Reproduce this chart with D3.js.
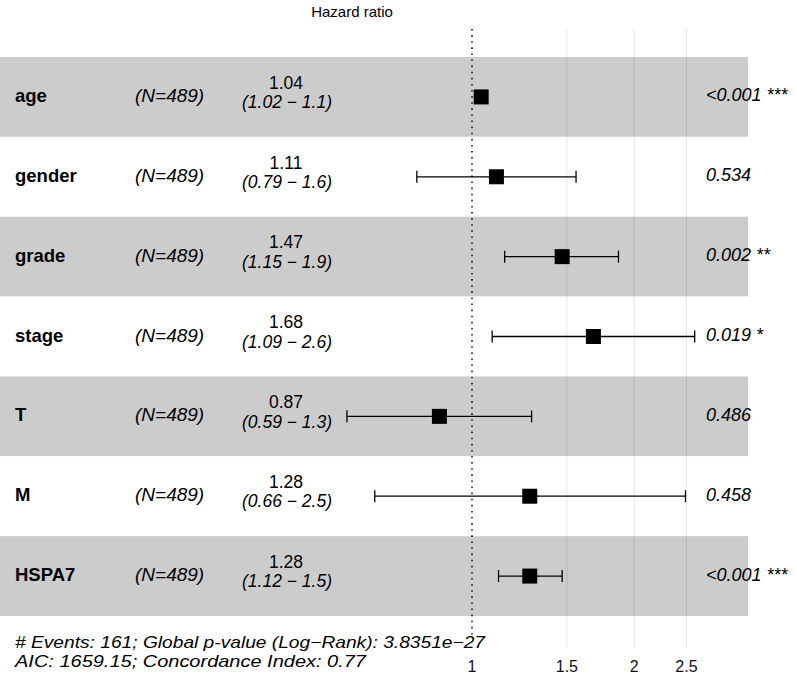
<!DOCTYPE html>
<html>
<head>
<meta charset="utf-8">
<script src="https://cdn.jsdelivr.net/npm/d3@7"></script>
<style>
  html, body { margin: 0; padding: 0; background: #fff; }
  svg { display: block; font-family: "Liberation Sans", Arial, Helvetica, sans-serif; }
</style>
</head>
<body>
<svg id="chart" width="797" height="681"></svg>
<script>
// ---- data ----
const variables = ["age", "gender", "grade", "stage", "T", "M", "HSPA7"];
const nLabels = ["(N=489)", "(N=489)", "(N=489)", "(N=489)", "(N=489)", "(N=489)", "(N=489)"];
const hr = [1.04, 1.11, 1.47, 1.68, 0.87, 1.28, 1.28];
const ciLow = [1.02, 0.79, 1.15, 1.09, 0.586, 0.66, 1.12];
const ciHigh = [1.06, 1.56, 1.87, 2.59, 1.29, 2.49, 1.47];
const hrText = ["1.04", "1.11", "1.47", "1.68", "0.87", "1.28", "1.28"];
const ciText = ["(1.02 \u2212 1.1)", "(0.79 \u2212 1.6)", "(1.15 \u2212 1.9)", "(1.09 \u2212 2.6)",
                "(0.59 \u2212 1.3)", "(0.66 \u2212 2.5)", "(1.12 \u2212 1.5)"];
const pText = ["<0.001 ***", "0.534", "0.002 **", "0.019 *", "0.486", "0.458", "<0.001 ***"];
const xTicks = [1, 1.5, 2, 2.5];
const xTickLabels = ["1", "1.5", "2", "2.5"];
const footer = ["# Events: 161; Global p-value (Log\u2212Rank): 3.8351e\u221227",
                "AIC: 1659.15; Concordance Index: 0.77"];
const titleText = "Hazard ratio";

// ---- layout ----
const svg = d3.select("#chart");
const x = d3.scaleLog().domain([0.55, 2.9]).range([472 + 234 * Math.log(0.55), 472 + 234 * Math.log(2.9)]);
const y = d3.scaleBand().domain(variables).range([57, 616]).paddingInner(0).paddingOuter(0);
const bandRight = 748;

// row backgrounds
svg.append("g").selectAll("rect").data(variables).join("rect")
  .attr("x", 0).attr("y", d => y(d)).attr("width", bandRight).attr("height", y.bandwidth())
  .attr("fill", (d, i) => i % 2 === 0 ? "#cccccc" : "#ffffff");

// gridlines
svg.append("g").selectAll("line").data(xTicks.filter(t => t !== 1)).join("line")
  .attr("x1", d => x(d)).attr("x2", d => x(d)).attr("y1", 29).attr("y2", 647)
  .attr("stroke", "#000").attr("stroke-opacity", 0.1).attr("stroke-width", 1);

// reference line at 1
svg.append("line").attr("x1", x(1)).attr("x2", x(1)).attr("y1", 29).attr("y2", 639)
  .attr("stroke", "#000").attr("stroke-width", 1.4).attr("stroke-dasharray", "1.6,4.5");

// tick labels
svg.append("g").selectAll("text").data(xTicks).join("text")
  .attr("x", d => x(d)).attr("y", 672).attr("text-anchor", "middle")
  .attr("font-size", 16).attr("fill", "#111")
  .text((d, i) => xTickLabels[i]);

// title
svg.append("text").attr("x", 352).attr("y", 17).attr("text-anchor", "middle")
  .attr("font-size", 15).attr("fill", "#000").text(titleText);

const rows = svg.append("g").selectAll("g").data(variables).join("g")
  .attr("transform", d => `translate(0,${y(d) + y.bandwidth() / 2})`);

// labels
rows.append("text").attr("x", 15).attr("y", 5).attr("font-size", 18.5).attr("font-weight", "bold")
  .text(d => d);
rows.append("text").attr("x", 135).attr("y", 5).attr("font-size", 19).attr("font-style", "italic")
  .text((d, i) => nLabels[i]);
rows.append("text").attr("x", 286).attr("y", -8.2).attr("font-size", 17.5).attr("text-anchor", "middle")
  .text((d, i) => hrText[i]);
rows.append("text").attr("x", 287).attr("y", 11.2).attr("font-size", 17.5).attr("text-anchor", "middle")
  .attr("font-style", "italic").text((d, i) => ciText[i]);
rows.append("text").attr("x", 706).attr("y", 4.5).attr("font-size", 18).attr("font-style", "italic")
  .text((d, i) => pText[i]);

// CI whiskers
rows.append("line").attr("x1", (d, i) => x(ciLow[i])).attr("x2", (d, i) => x(ciHigh[i]))
  .attr("y1", 0).attr("y2", 0).attr("stroke", "#000").attr("stroke-width", 1.3);
rows.append("line").attr("x1", (d, i) => x(ciLow[i])).attr("x2", (d, i) => x(ciLow[i]))
  .attr("y1", -6).attr("y2", 6).attr("stroke", "#000").attr("stroke-width", 1.3);
rows.append("line").attr("x1", (d, i) => x(ciHigh[i])).attr("x2", (d, i) => x(ciHigh[i]))
  .attr("y1", -6).attr("y2", 6).attr("stroke", "#000").attr("stroke-width", 1.3);
// squares
rows.append("rect").attr("x", (d, i) => x(hr[i]) - 7.5).attr("y", -7.5)
  .attr("width", 15).attr("height", 15).attr("fill", "#000");

// footer
const footerLen = [470, 351];
svg.append("g").selectAll("text").data(footer).join("text")
  .attr("x", 15).attr("y", (d, i) => 648 + i * 19.3).attr("font-size", 16.5).attr("font-style", "italic")
  .attr("textLength", (d, i) => footerLen[i]).attr("lengthAdjust", "spacingAndGlyphs")
  .text(d => d);
</script>
</body>
</html>
